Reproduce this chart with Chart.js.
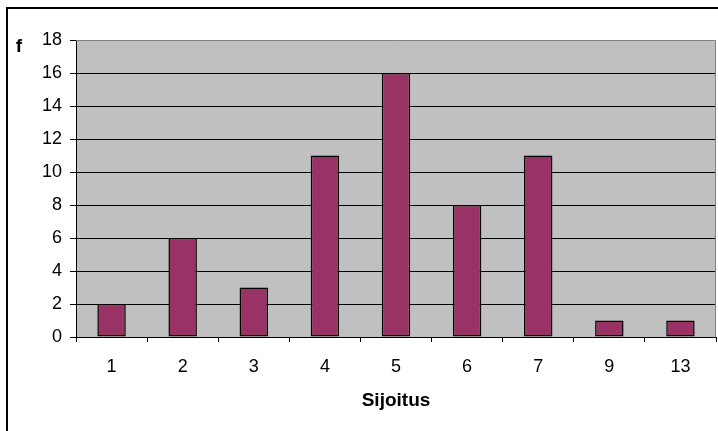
<!DOCTYPE html>
<html>
<head>
<meta charset="utf-8">
<script src="https://cdn.jsdelivr.net/npm/chart.js@4/dist/chart.umd.min.js"></script>
<style>
  html, body { margin: 0; padding: 0; background: #ffffff; }
  canvas { display: block; }
</style>
</head>
<body>
<canvas id="chart" width="718" height="431"></canvas>
<script>
// Placement frequencies
const categories = ['1', '2', '3', '4', '5', '6', '7', '9', '13'];
const frequencies = [2, 6, 3, 11, 16, 8, 11, 1, 1];
const yTicks = [0, 2, 4, 6, 8, 10, 12, 14, 16, 18];
const xAxisTitle = 'Sijoitus';
const yAxisLabel = 'f';

const FONT = '"Liberation Sans", Arial, sans-serif';

// Gray plot background, gray frame on top/right, outer chart frame, and the "f" label
const framePlugin = {
  id: 'frame',
  beforeDraw(chart) {
    const { ctx, chartArea: a } = chart;
    ctx.save();
    ctx.fillStyle = '#ffffff';
    ctx.fillRect(0, 0, chart.width, chart.height);
    ctx.fillStyle = '#C0C0C0';
    ctx.fillRect(a.left, a.top, a.right - a.left, a.bottom - a.top);
    ctx.restore();
  },
  afterDraw(chart) {
    const { ctx, chartArea: a } = chart;
    ctx.save();
    // plot area frame (top and right)
    ctx.strokeStyle = '#808080';
    ctx.lineWidth = 1;
    ctx.beginPath();
    ctx.moveTo(a.left, a.top + 0.5);
    ctx.lineTo(a.right - 0.5, a.top + 0.5);
    ctx.lineTo(a.right - 0.5, a.bottom);
    ctx.stroke();
    // outer chart frame
    ctx.fillStyle = '#000000';
    ctx.fillRect(6, 7, 2, chart.height - 7);
    ctx.fillRect(6, 7, chart.width - 6, 2);
    // value axis label
    ctx.font = 'bold 19px ' + FONT;
    ctx.textAlign = 'center';
    ctx.textBaseline = 'middle';
    ctx.fillText(yAxisLabel, 19, 47);
    ctx.restore();
  }
};

new Chart(document.getElementById('chart'), {
  type: 'bar',
  data: {
    labels: categories,
    datasets: [{
      data: frequencies,
      backgroundColor: '#993366',
      borderColor: '#000000',
      borderWidth: 1.5,
      borderSkipped: false,
      barPercentage: 0.4,
      categoryPercentage: 1.0
    }]
  },
  options: {
    responsive: false,
    animation: false,
    devicePixelRatio: 1,
    layout: { padding: { left: 0, top: 40, right: 2, bottom: 0 } },
    plugins: {
      legend: { display: false },
      tooltip: { enabled: false },
      title: { display: false }
    },
    scales: {
      x: {
        offset: true,
        afterFit(scale) { scale.height = 94; },
        grid: {
          offset: true,
          drawOnChartArea: false,
          drawTicks: true,
          tickLength: 5,
          color: '#000000'
        },
        border: { display: true, color: '#000000', width: 1 },
        ticks: {
          color: '#000000',
          padding: 14,
          maxRotation: 0,
          font: { family: FONT, size: 18 }
        },
        title: {
          display: true,
          text: xAxisTitle,
          color: '#000000',
          font: { family: FONT, size: 19, weight: 'bold' },
          padding: { top: 0, bottom: 19 }
        }
      },
      y: {
        min: 0,
        max: 18,
        afterFit(scale) { scale.width = 76; },
        afterBuildTicks(scale) { scale.ticks = yTicks.map(v => ({ value: v })); },
        grid: {
          color: ctx => (ctx.tick && ctx.tick.value === 18 ? 'rgba(0,0,0,0)' : '#000000'),
          tickColor: '#000000',
          tickLength: 6,
          lineWidth: 1
        },
        border: { display: true, color: '#000000', width: 1 },
        ticks: {
          color: '#000000',
          padding: 8,
          font: { family: FONT, size: 18 }
        }
      }
    }
  },
  plugins: [framePlugin]
});
</script>
</body>
</html>
